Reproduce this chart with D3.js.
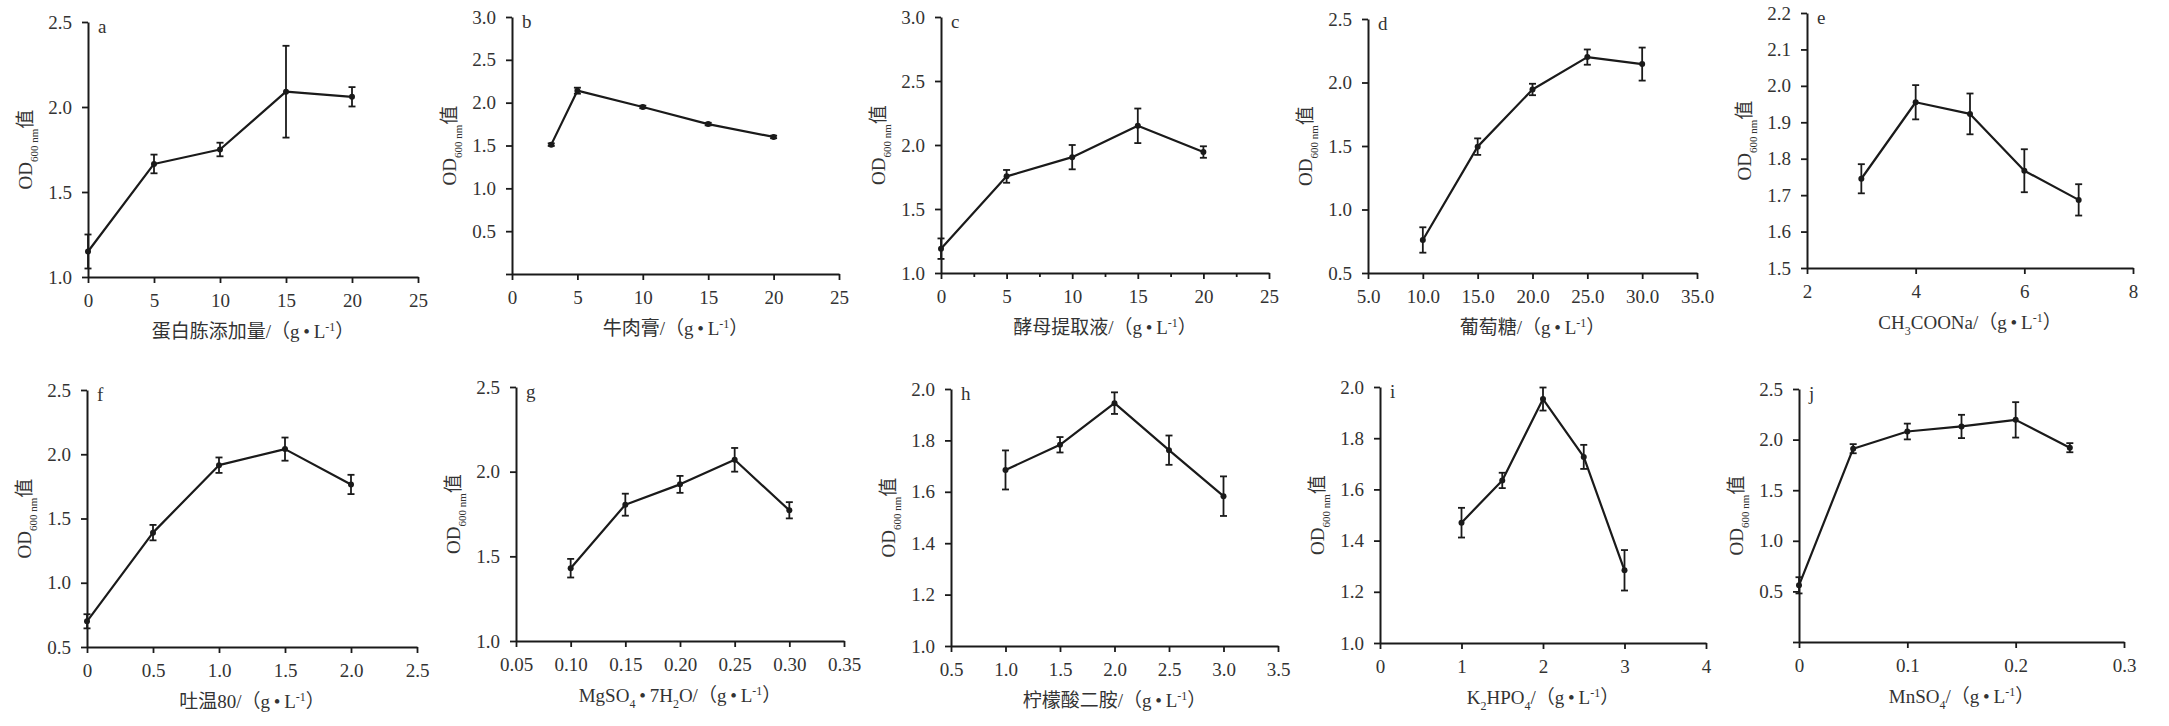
<!DOCTYPE html>
<html><head><meta charset="utf-8">
<script src="https://cdn.jsdelivr.net/npm/d3@7/dist/d3.min.js"></script>
<style>body{margin:0;background:#fff}</style>
</head><body>
<svg id="chart" width="2169" height="726"></svg>
<script>
// ---------- data ----------
const panelLetters = ["a","b","c","d","e","f","g","h","i","j"];

const xA = [0,5,10,15,20];
const yA = [1.15,1.665,1.75,2.09,2.06];
const eA = [0.10,0.055,0.04,0.27,0.057];
const xTicksA = ["0","5","10","15","20","25"];
const yTicksA = ["1.0","1.5","2.0","2.5"];
const xTitleA = [["蛋白胨添加量/（g\u2009•\u2009L",""],["-1","sup"],["）",""]];

const xB = [3,5,10,15,20];
const yB = [1.51,2.14,1.95,1.75,1.60];
const eB = [0.015,0.035,0.015,0.015,0.015];
const xTicksB = ["0","5","10","15","20","25"];
const yTicksB = ["0.5","1.0","1.5","2.0","2.5","3.0"];
const xTitleB = [["牛肉膏/（g\u2009•\u2009L",""],["-1","sup"],["）",""]];

const xC = [0,5,10,15,20];
const yC = [1.19,1.755,1.905,2.15,1.945];
const eC = [0.08,0.05,0.095,0.135,0.045];
const xTicksC = ["0","5","10","15","20","25"];
const xMinorC = [2.5,7.5,12.5,17.5,22.5];
const yTicksC = ["1.0","1.5","2.0","2.5","3.0"];
const xTitleC = [["酵母提取液/（g\u2009•\u2009L",""],["-1","sup"],["）",""]];

const xD = [10,15,20,25,30];
const yD = [0.76,1.495,1.945,2.20,2.145];
const eD = [0.10,0.065,0.045,0.06,0.13];
const xTicksD = ["5.0","10.0","15.0","20.0","25.0","30.0","35.0"];
const yTicksD = ["0.5","1.0","1.5","2.0","2.5"];
const xTitleD = [["葡萄糖/（g\u2009•\u2009L",""],["-1","sup"],["）",""]];

const xE = [3,4,5,6,7];
const yE = [1.745,1.955,1.923,1.767,1.687];
const eE = [0.04,0.047,0.056,0.059,0.043];
const xTicksE = ["2","4","6","8"];
const yTicksE = ["1.5","1.6","1.7","1.8","1.9","2.0","2.1","2.2"];
const xTitleE = [["CH",""],["3","sub"],["COONa/（g\u2009•\u2009L",""],["-1","sup"],["）",""]];

const xF = [0,0.5,1.0,1.5,2.0];
const yF = [0.70,1.39,1.915,2.04,1.765];
const eF = [0.055,0.06,0.06,0.09,0.075];
const xTicksF = ["0","0.5","1.0","1.5","2.0","2.5"];
const yTicksF = ["0.5","1.0","1.5","2.0","2.5"];
const xTitleF = [["吐温80/（g\u2009•\u2009L",""],["-1","sup"],["）",""]];

const xG = [0.10,0.15,0.20,0.25,0.30];
const yG = [1.43,1.805,1.925,2.07,1.772];
const eG = [0.055,0.065,0.05,0.07,0.048];
const xTicksG = ["0.05","0.10","0.15","0.20","0.25","0.30","0.35"];
const yTicksG = ["1.0","1.5","2.0","2.5"];
const xTitleG = [["MgSO",""],["4","sub"],["\u2009•\u20097H",""],["2","sub"],["O/（g\u2009•\u2009L",""],["-1","sup"],["）",""]];

const xH = [1.0,1.5,2.0,2.5,3.0];
const yH = [1.685,1.783,1.945,1.762,1.583];
const eH = [0.076,0.03,0.042,0.057,0.077];
const xTicksH = ["0.5","1.0","1.5","2.0","2.5","3.0","3.5"];
const yTicksH = ["1.0","1.2","1.4","1.6","1.8","2.0"];
const xTitleH = [["柠檬酸二胺/（g\u2009•\u2009L",""],["-1","sup"],["）",""]];

const xI = [1,1.5,2,2.5,3];
const yI = [1.47,1.635,1.953,1.727,1.284];
const eI = [0.058,0.03,0.045,0.047,0.079];
const xTicksI = ["0","1","2","3","4"];
const yTicksI = ["1.0","1.2","1.4","1.6","1.8","2.0"];
const xTitleI = [["K",""],["2","sub"],["HPO",""],["4","sub"],["/（g\u2009•\u2009L",""],["-1","sup"],["）",""]];

const xJ = [0,0.05,0.10,0.15,0.20,0.25];
const yJ = [0.56,1.91,2.08,2.13,2.195,1.92];
const eJ = [0.08,0.045,0.078,0.115,0.175,0.045];
const xTicksJ = ["0","0.1","0.2","0.3"];
const yTicksJ = ["0.5","1.0","1.5","2.0","2.5"];
const xTitleJ = [["MnSO",""],["4","sub"],["/（g\u2009•\u2009L",""],["-1","sup"],["）",""]];

const yTitle = [["OD",""],["600 nm","sub"],["值",""]];

// y-domain lower limits (where the x axis sits)
const yMinB = 0, yMinJ = 0;

// ---------- layout ----------
const boxes = [
  [88,418,22,277],[512,839,17,274],[941,1269,17,273],[1368,1697,19,273],[1807,2133,13,268],
  [87,417,390,647],[516,844,387,641],[951,1278,389,646],[1380,1706,387,643],[1799,2124,389,642]
];

const panels = [
  {x:xA,y:yA,e:eA,xt:xTicksA,yt:yTicksA,title:xTitleA},
  {x:xB,y:yB,e:eB,xt:xTicksB,yt:yTicksB,title:xTitleB,ymin:yMinB},
  {x:xC,y:yC,e:eC,xt:xTicksC,yt:yTicksC,title:xTitleC,minor:xMinorC},
  {x:xD,y:yD,e:eD,xt:xTicksD,yt:yTicksD,title:xTitleD},
  {x:xE,y:yE,e:eE,xt:xTicksE,yt:yTicksE,title:xTitleE},
  {x:xF,y:yF,e:eF,xt:xTicksF,yt:yTicksF,title:xTitleF},
  {x:xG,y:yG,e:eG,xt:xTicksG,yt:yTicksG,title:xTitleG},
  {x:xH,y:yH,e:eH,xt:xTicksH,yt:yTicksH,title:xTitleH},
  {x:xI,y:yI,e:eI,xt:xTicksI,yt:yTicksI,title:xTitleI},
  {x:xJ,y:yJ,e:eJ,xt:xTicksJ,yt:yTicksJ,title:xTitleJ,ymin:yMinJ}
];

const FONT = '"Liberation Serif","Times New Roman","Noto Sans CJK SC",serif';
const TEXT = "#333";
const INK = "#1a1a1a";
const FS = 19;

const svg = d3.select("#chart").style("font-family", FONT);
svg.append("rect").attr("width",2169).attr("height",726).attr("fill","#fff");

function rich(textSel, segs, base, small) {
  let cur = 0;
  segs.forEach(([t, mode]) => {
    const target = mode === "sub" ? base*0.3 : mode === "sup" ? -base*0.38 : 0;
    textSel.append("tspan")
      .attr("dy", target - cur)
      .attr("font-size", mode ? small : base)
      .text(t);
    cur = target;
  });
}

panels.forEach((p, i) => {
  const [L, R, T, B] = boxes[i];
  const xv = p.xt.map(Number), yv = p.yt.map(Number);
  const ylo = p.ymin !== undefined ? p.ymin : yv[0];
  const x = d3.scaleLinear().domain([xv[0], xv[xv.length-1]]).range([L, R]);
  const y = d3.scaleLinear().domain([ylo, yv[yv.length-1]]).range([B, T]);
  const g = svg.append("g");

  // y axis
  const yTickVals = yv.indexOf(ylo) < 0 ? [ylo].concat(yv) : yv;
  const yLab = new Map(yv.map((v,k)=>[v,p.yt[k]]));
  const ya = g.append("g").attr("transform",`translate(${L},0)`)
    .call(d3.axisLeft(y).tickValues(yTickVals).tickSize(6).tickSizeOuter(0).tickPadding(10)
      .tickFormat(v => yLab.has(v) ? yLab.get(v) : ""));
  // x axis
  const xa = g.append("g").attr("transform",`translate(0,${B})`)
    .call(d3.axisBottom(x).tickValues(xv).tickSize(6).tickSizeOuter(0).tickPadding(11)
      .tickFormat((v,k) => p.xt[k]));
  if (p.minor) {
    g.append("g").attr("transform",`translate(0,${B})`)
      .call(d3.axisBottom(x).tickValues(p.minor).tickSize(4).tickSizeOuter(0).tickFormat(""))
      .call(s => s.select(".domain").remove())
      .selectAll("line").attr("stroke",INK).attr("stroke-width",1.8);
  }
  [ya, xa].forEach(a => {
    a.select(".domain").attr("stroke",INK).attr("stroke-width",2);
    a.selectAll(".tick line").attr("stroke",INK).attr("stroke-width",1.8);
    a.selectAll(".tick text").attr("fill",TEXT).attr("font-size",FS).attr("font-family",FONT);
  });

  // line
  const pts = p.x.map((xx,k)=>({x:xx,y:p.y[k],e:p.e[k]}));
  g.append("path").datum(pts)
    .attr("fill","none").attr("stroke",INK).attr("stroke-width",2.2).attr("stroke-linejoin","round")
    .attr("d", d3.line().x(d=>x(d.x)).y(d=>y(d.y)));

  // error bars
  const eb = g.append("g").attr("stroke",INK).attr("stroke-width",1.8);
  pts.forEach(d => {
    const cx = x(d.x), y1 = y(d.y+d.e), y2 = y(d.y-d.e);
    eb.append("line").attr("x1",cx).attr("x2",cx).attr("y1",y1).attr("y2",y2);
    eb.append("line").attr("x1",cx-3.5).attr("x2",cx+3.5).attr("y1",y1).attr("y2",y1);
    eb.append("line").attr("x1",cx-3.5).attr("x2",cx+3.5).attr("y1",y2).attr("y2",y2);
  });
  g.selectAll("circle.pt").data(pts).join("circle").attr("class","pt")
    .attr("cx",d=>x(d.x)).attr("cy",d=>y(d.y)).attr("r",3).attr("fill",INK);

  // panel letter
  g.append("text").attr("x",L+10).attr("y",T+11).attr("fill",TEXT)
    .attr("font-size",FS).text(panelLetters[i]);

  // x title
  const xt = g.append("text").attr("x",(L+R)/2).attr("y",B+61)
    .attr("text-anchor","middle").attr("fill",TEXT).attr("font-size",FS);
  rich(xt, p.title, FS, 12);

  // y title
  const yt = g.append("text")
    .attr("transform",`translate(${L-56},${(T+B)/2}) rotate(-90)`)
    .attr("text-anchor","middle").attr("fill",TEXT).attr("font-size",FS);
  rich(yt, yTitle, FS, 11);
});
</script>
</body></html>
